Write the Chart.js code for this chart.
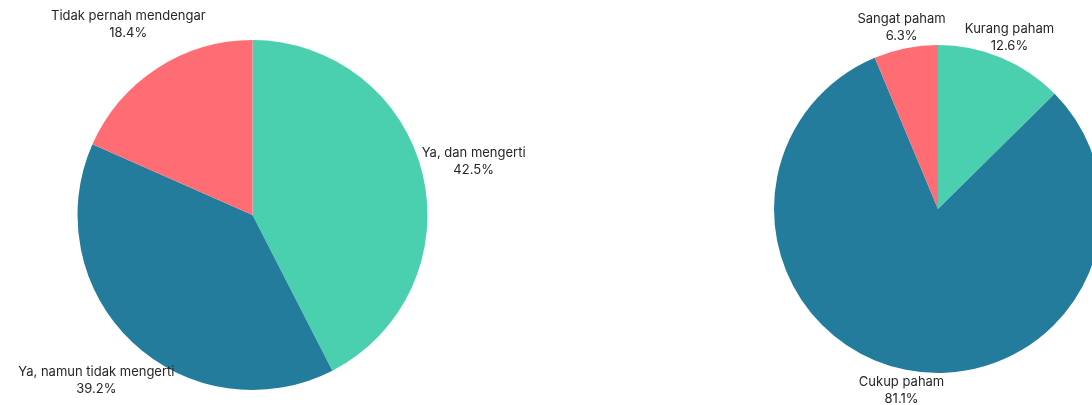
<!DOCTYPE html>
<html>
<head>
<meta charset="utf-8">
<script src="https://cdn.jsdelivr.net/npm/chart.js@4.4.1/dist/chart.umd.min.js"></script>
<style>
  html, body { margin: 0; padding: 0; background: #ffffff; overflow: hidden; width: 1092px; height: 405px; }
  .wrap { position: absolute; top: 0; height: 405px; }
  #left { left: 0; width: 620px; }
  #right { left: 700px; width: 500px; }
</style>
</head>
<body>
<div class="wrap" id="left"><canvas id="c1"></canvas></div>
<div class="wrap" id="right"><canvas id="c2"></canvas></div>
<script>
// Awareness survey: "heard of it?"
const awarenessLabels = ['Ya, dan mengerti', 'Ya, namun tidak mengerti', 'Tidak pernah mendengar'];
const awarenessValues = [42.5, 39.2, 18.4];

// Understanding level
const understandingLabels = ['Kurang paham', 'Cukup paham', 'Sangat paham'];
const understandingValues = [12.6, 81.1, 6.3];

const sliceColors = ['#4acfaf', '#247c9d', '#ff6d74'];

// Draws "label / value%" outside each slice along its mid-angle
const outsideLabels = {
  id: 'outsideLabels',
  afterDraw(chart, args, opts) {
    const ctx = chart.ctx;
    const meta = chart.getDatasetMeta(0);
    const data = chart.data.datasets[0].data;
    ctx.save();
    ctx.font = '13px Inter, "DejaVu Sans", sans-serif';
    ctx.fillStyle = '#262626';
    ctx.textAlign = 'center';
    ctx.textBaseline = 'middle';
    meta.data.forEach((arc, i) => {
      const p = arc.getProps(['x', 'y', 'startAngle', 'endAngle', 'outerRadius'], true);
      const mid = (p.startAngle + p.endAngle) / 2;
      const d = p.outerRadius * opts.factor;
      const cx = p.x + Math.cos(mid) * d;
      const cy = p.y + Math.sin(mid) * d;
      ctx.fillText(chart.data.labels[i], cx, cy - 8.5);
      ctx.fillText(data[i].toFixed(1) + '%', cx, cy + 8.5);
    });
    ctx.restore();
  }
};

function makePie(id, labels, values, padding, factor) {
  return new Chart(document.getElementById(id), {
    type: 'pie',
    data: {
      labels: labels,
      datasets: [{
        data: values,
        backgroundColor: sliceColors,
        borderWidth: 0
      }]
    },
    options: {
      responsive: true,
      maintainAspectRatio: false,
      animation: false,
      layout: { padding: padding },
      plugins: {
        legend: { display: false },
        tooltip: { enabled: false },
        outsideLabels: { factor: factor }
      }
    },
    plugins: [outsideLabels]
  });
}

makePie('c1', awarenessLabels, awarenessValues, { top: 40, bottom: 15, left: 77, right: 192 }, 1.3);
makePie('c2', understandingLabels, understandingValues, { top: 45, bottom: 32, left: 74, right: 98 }, 1.13);
</script>
</body>
</html>
